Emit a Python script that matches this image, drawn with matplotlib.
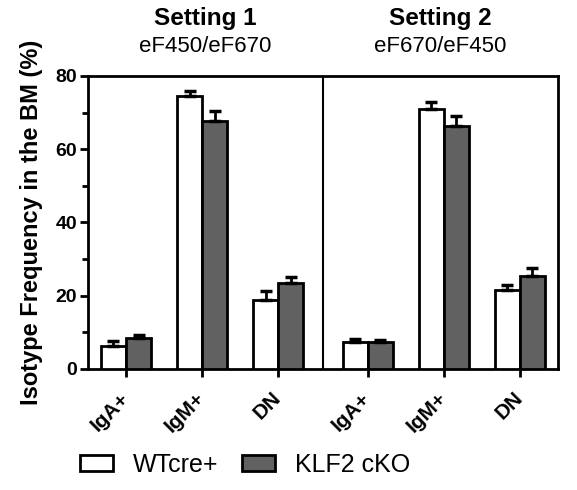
import matplotlib.pyplot as plt
from matplotlib.patches import Patch
from matplotlib.transforms import ScaledTranslation
import numpy as np

plt.rcParams['font.family'] = ['Liberation Sans', 'DejaVu Sans']

groups = ['IgA+', 'IgM+', 'DN', 'IgA+', 'IgM+', 'DN']
wt_mean = [6.3, 74.6, 18.7, 7.3, 71.0, 21.5]
wt_err = [1.4, 1.2, 2.5, 0.8, 2.0, 1.5]
ko_mean = [8.4, 67.6, 23.5, 7.3, 66.2, 25.3]
ko_err = [0.9, 2.7, 1.5, 0.7, 2.9, 2.3]
settings = ['Setting 1', 'Setting 2']
dyes = ['eF450/eF670', 'eF670/eF450']

pos = np.array([0, 1, 2, 3.18, 4.18, 5.18])
w = 0.33
grey = '#616161'

fig = plt.figure(figsize=(5.77, 4.9), dpi=100)
ax = fig.add_axes([0.1525, 0.247, 0.8145, 0.598])

zeros = np.zeros(len(pos))
ax.bar(pos - w / 2, wt_mean, w, color='white', edgecolor='black', linewidth=2,
       yerr=[zeros, wt_err], error_kw=dict(ecolor='black', elinewidth=2, capsize=4, capthick=2.5),
       zorder=3)
ax.bar(pos + w / 2, ko_mean, w, color=grey, edgecolor='black', linewidth=2,
       yerr=[zeros, ko_err], error_kw=dict(ecolor='black', elinewidth=2, capsize=4, capthick=2.5),
       zorder=3)

ax.axvline((pos[2] + pos[3]) / 2, color='black', linewidth=1.5)

ax.set_xlim(-0.5, 5.68)
ax.set_ylim(0, 80)
ax.set_yticks([0, 20, 40, 60, 80])
ax.set_yticks([10, 30, 50, 70], minor=True)
ax.set_xticks(pos)
ax.set_xticklabels(groups, rotation=45, ha='right', va='center', rotation_mode='anchor',
                   fontsize=15, fontweight='bold')
shift = ScaledTranslation(4 / 100, 0, fig.dpi_scale_trans)
for lbl in ax.get_xticklabels():
    lbl.set_transform(lbl.get_transform() + shift)
for lbl in ax.get_yticklabels():
    lbl.set_fontweight('bold')
ax.tick_params(axis='y', which='major', labelsize=14, length=6, width=2, pad=2)
ax.tick_params(axis='y', which='minor', length=4, width=2)
ax.tick_params(axis='x', length=6, width=2, pad=13)
for s in ax.spines.values():
    s.set_linewidth(2)

ax.set_ylabel('Isotype Frequency in the BM (%)', fontsize=17, fontweight='bold')
ax.yaxis.set_label_coords(-0.096, 0.5)

centers = [205 / 577, 440 / 577]
for cx, title, dye in zip(centers, settings, dyes):
    fig.text(cx, 1 - 18 / 490, title, ha='center', va='center', fontsize=17.5, fontweight='bold')
    fig.text(cx, 1 - 47 / 490, dye, ha='center', va='center', fontsize=16)

handles = [Patch(facecolor='white', edgecolor='black', linewidth=2, label='WTcre+'),
           Patch(facecolor=grey, edgecolor='black', linewidth=2, label='KLF2 cKO')]
fig.legend(handles=handles, loc='center left', bbox_to_anchor=(80 / 577, 1 - 465 / 490),
           ncol=2, frameon=False, fontsize=18, handlelength=1.32, handleheight=0.64,
           handletextpad=0.8, columnspacing=0.95, borderpad=0, borderaxespad=0)

fig.savefig('out.png', dpi=100)
